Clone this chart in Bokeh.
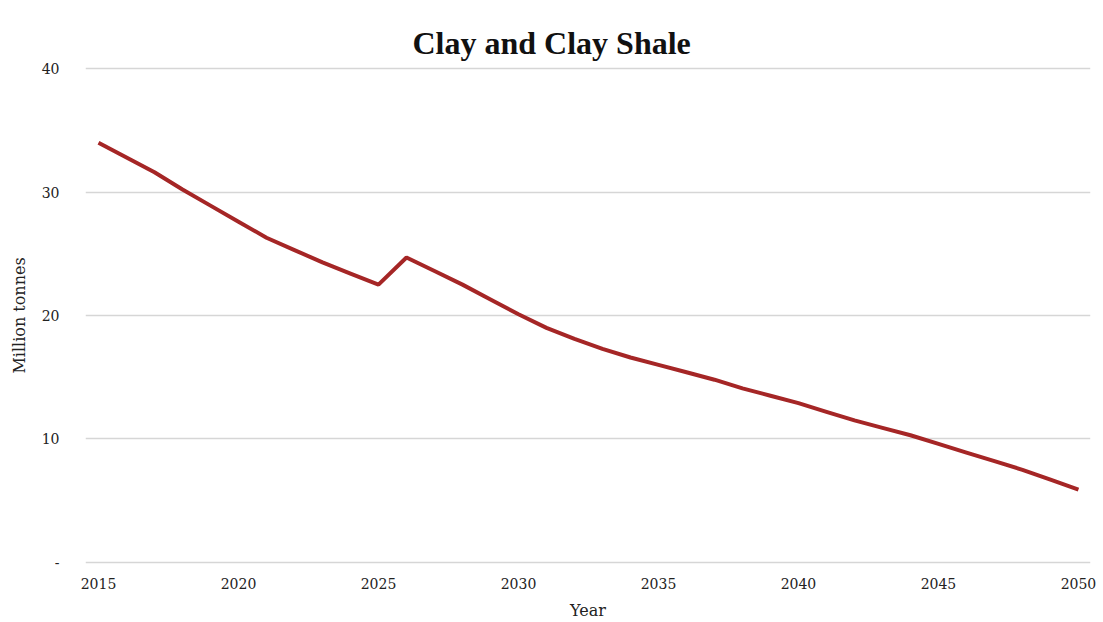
from bokeh.plotting import figure
from bokeh.models import Range1d, FixedTicker, ColumnDataSource, LinearAxis
from bokeh.embed import file_html
from bokeh.resources import INLINE

title_text = "Clay and Clay Shale"
years = list(range(2015, 2051))
million_tonnes = [34.0, 32.8, 31.6, 30.2, 28.9, 27.6, 26.3, 25.3, 24.3, 23.4,
                  22.5, 24.7, 23.6, 22.5, 21.3, 20.1, 19.0, 18.1, 17.3, 16.6,
                  16.0, 15.4, 14.8, 14.1, 13.5, 12.9, 12.2, 11.5, 10.9, 10.3,
                  9.6, 8.9, 8.2, 7.5, 6.7, 5.9]
x_ticks = [2015, 2020, 2025, 2030, 2035, 2040, 2045, 2050]
y_ticks = [0, 10, 20, 30, 40]
y_tick_labels = {0: "-", 10: "10", 20: "20", 30: "30", 40: "40"}

source = ColumnDataSource(dict(year=years, value=million_tonnes))

p = figure(width=1103, height=622, output_backend="svg", toolbar_location=None,
           x_range=Range1d(2014.536, 2050.43), y_range=Range1d(-0.25, 40.25),
           min_border_left=85, min_border_right=13, min_border_top=65, min_border_bottom=57,
           title=title_text)
p.outline_line_color = None
p.background_fill_color = "white"
p.border_fill_color = "white"

xa = p.below[0]
ya = p.left[0]

p.title.align = "left"
p.title.offset = 327
p.title.text_font = "Liberation Serif"
p.title.text_font_style = "bold"
p.title.text_font_size = "32px"
p.title.text_color = "#111111"
p.title.standoff = 10

# invisible spacer axis between plot area and title (one blank, transparent label)
spacer = LinearAxis(ticker=FixedTicker(ticks=[2032]), axis_line_color=None,
                    major_tick_out=0, major_tick_in=0, minor_tick_out=0, minor_tick_in=0,
                    major_label_standoff=10, major_label_text_font_size="6px",
                    major_label_text_alpha=0, major_label_overrides={2032: " "})
p.add_layout(spacer, "above")

p.line("year", "value", source=source, line_color="#a52626", line_width=4)

for ax in (xa, ya):
    ax.axis_line_color = None
    ax.major_tick_line_color = None
    ax.minor_tick_line_color = None
    ax.major_label_text_font = "DejaVu Serif"
    ax.major_label_text_font_size = "14px"
    ax.major_label_text_color = "#222222"
    ax.axis_label_text_font = "DejaVu Serif"
    ax.axis_label_text_font_style = "normal"
    ax.axis_label_text_font_size = "16px"
    ax.axis_label_text_color = "#222222"

xa.ticker = FixedTicker(ticks=x_ticks)
ya.ticker = FixedTicker(ticks=y_ticks)
ya.major_label_overrides = y_tick_labels
xa.axis_label = "Year"
ya.axis_label = "Million tonnes"
xa.major_label_standoff = 6
xa.axis_label_standoff = 9
ya.major_label_standoff = 20
ya.axis_label_standoff = 10

p.xgrid.grid_line_color = None
p.ygrid.grid_line_color = "#d6d6d6"
p.ygrid.grid_line_width = 1.5

open("out.html", "w").write(file_html(p, INLINE))
